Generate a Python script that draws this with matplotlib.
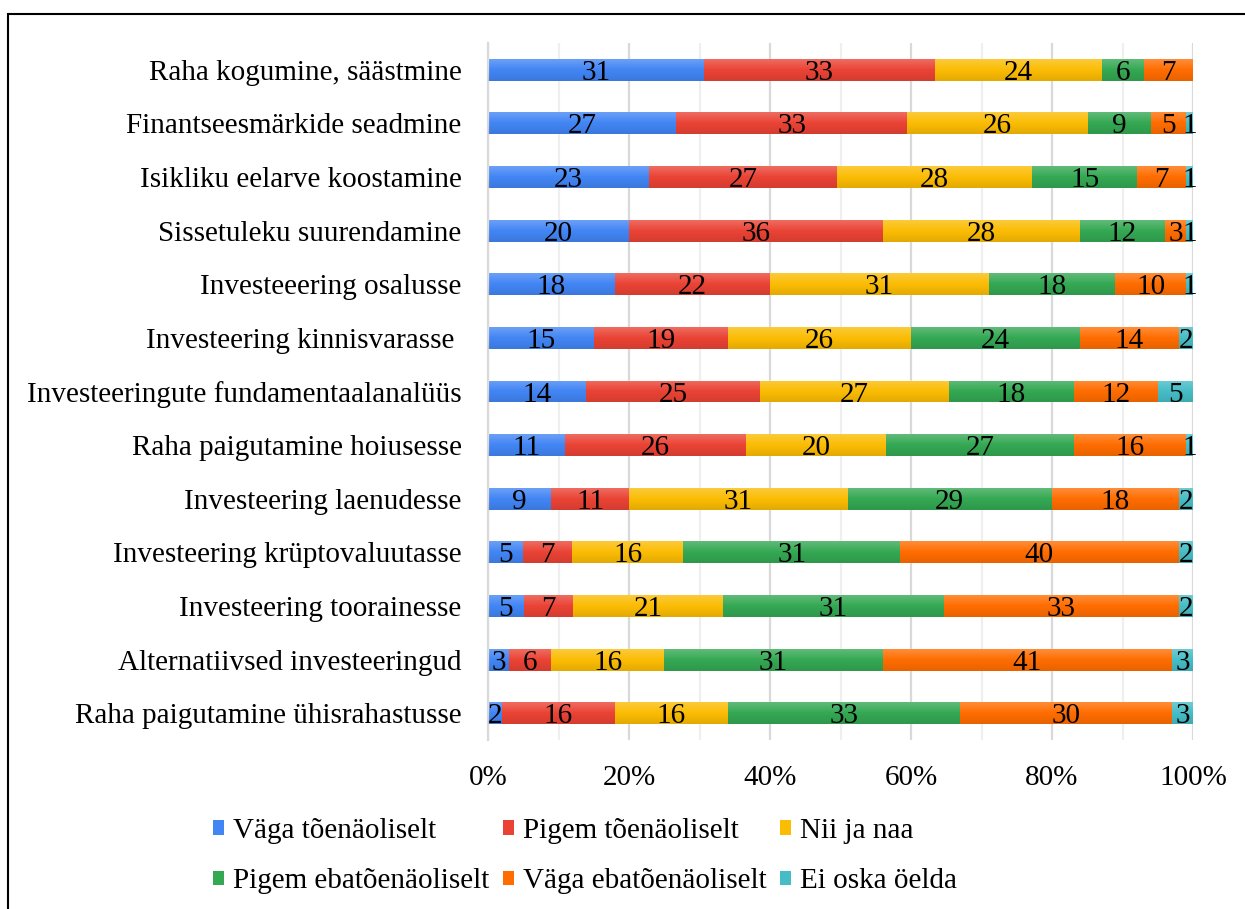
import numpy as np
import matplotlib
matplotlib.use("Agg")
import matplotlib.pyplot as plt
from matplotlib.patches import Rectangle, Patch
from matplotlib.ticker import MultipleLocator, PercentFormatter

plt.rcParams['font.family'] = ['Liberation Serif', 'DejaVu Serif']

categories = [
    "Raha kogumine, säästmine",
    "Finantseesmärkide seadmine",
    "Isikliku eelarve koostamine",
    "Sissetuleku suurendamine",
    "Investeeering osalusse",
    "Investeering kinnisvarasse ",
    "Investeeringute fundamentaalanalüüs",
    "Raha paigutamine hoiusesse",
    "Investeering laenudesse",
    "Investeering krüptovaluutasse",
    "Investeering toorainesse",
    "Alternatiivsed investeeringud",
    "Raha paigutamine ühisrahastusse",
]

series_names = [
    "Väga tõenäoliselt",
    "Pigem tõenäoliselt",
    "Nii ja naa",
    "Pigem ebatõenäoliselt",
    "Väga ebatõenäoliselt",
    "Ei oska öelda",
]

vaga_toenaoliselt = [31, 27, 23, 20, 18, 15, 14, 11, 9, 5, 5, 3, 2]
pigem_toenaoliselt = [33, 33, 27, 36, 22, 19, 25, 26, 11, 7, 7, 6, 16]
nii_ja_naa = [24, 26, 28, 28, 31, 26, 27, 20, 31, 16, 21, 16, 16]
pigem_ebatoenaoliselt = [6, 9, 15, 12, 18, 24, 18, 27, 29, 31, 31, 31, 33]
vaga_ebatoenaoliselt = [7, 5, 7, 3, 10, 14, 12, 16, 18, 40, 33, 41, 30]
ei_oska_oelda = [0, 1, 1, 1, 1, 2, 5, 1, 2, 2, 2, 3, 3]

colors = ["#4285F4", "#EA4335", "#FBBC04", "#34A853", "#FF6D01", "#46BDC6"]

values = np.array([vaga_toenaoliselt, pigem_toenaoliselt, nii_ja_naa,
                   pigem_ebatoenaoliselt, vaga_ebatoenaoliselt, ei_oska_oelda],
                  dtype=float)
totals = values.sum(axis=0)
shares = values / totals

FS = 21
W, H = 1245, 909
fig = plt.figure(figsize=(W / 100, H / 100), dpi=100)
ax = fig.add_axes([488 / W, 1 - 740 / H, (1193 - 488) / W, (740 - 43) / H])

y = np.arange(len(categories))
bar_h = 0.41
left = np.zeros(len(categories))
for i, (name, col) in enumerate(zip(series_names, colors)):
    ax.barh(y, shares[i], left=left, height=bar_h, color=col,
            edgecolor='none', zorder=2)
    for j in range(len(categories)):
        if values[i, j] > 0:
            ax.text(left[j] + shares[i, j] / 2, y[j], f"{int(values[i, j])}",
                    ha='center', va='center_baseline', fontsize=FS,
                    color='black', zorder=5)
    left += shares[i]

# soft vertical shading on each bar row: lighter top, darker bottom
grad = np.zeros((32, 2, 4))
t = np.linspace(0, 1, 32)
for k, tv in enumerate(t):
    if tv < 0.5:
        grad[k, :, :3] = 1.0
        grad[k, :, 3] = 0.22 * (0.5 - tv) * 2
    else:
        grad[k, :, :3] = 0.0
        grad[k, :, 3] = 0.10 * (tv - 0.5) * 2
for j in range(len(categories)):
    ax.imshow(grad, extent=(0, left[j], y[j] + bar_h / 2, y[j] - bar_h / 2),
              aspect='auto', zorder=3, interpolation='bilinear')

ax.set_xlim(0, 1)
ax.set_ylim(len(categories) - 0.5, -0.5)
ax.set_yticks(y)
ax.set_yticklabels(categories, fontsize=FS)
ax.xaxis.set_major_locator(MultipleLocator(0.2))
ax.xaxis.set_minor_locator(MultipleLocator(0.1))
ax.xaxis.set_major_formatter(PercentFormatter(1.0, decimals=0))
ax.tick_params(axis='x', which='both', length=0, labelsize=FS, pad=18)
ax.tick_params(axis='y', length=0, pad=19)
ax.grid(axis='x', which='major', color='#d9d9d9', linewidth=1.6, zorder=0)
ax.grid(axis='x', which='minor', color='#efefef', linewidth=1.6, zorder=0)
ax.set_axisbelow(True)
for s in ['top', 'right', 'bottom']:
    ax.spines[s].set_visible(False)
ax.spines['left'].set_color('#d9d9d9')
ax.spines['left'].set_linewidth(1.6)

handles = [Patch(facecolor=c, edgecolor='none') for c in colors]
order = [0, 3, 1, 4, 2, 5]
fig.legend([handles[k] for k in order], [series_names[k] for k in order],
           ncol=3, loc='center', bbox_to_anchor=(585 / W, 1 - 856 / H),
           frameon=False, fontsize=FS, handlelength=0.4, handleheight=0.4,
           handletextpad=0.3, columnspacing=0.45, labelspacing=0.85,
           borderpad=0)

# outer frame
fig.patches.append(Rectangle((7.5 / W, -0.05), 1.2, 1 - 13.5 / H + 0.05,
                             transform=fig.transFigure, fill=False,
                             edgecolor='black', linewidth=1.5, zorder=10))

fig.savefig("out.png", dpi=100)
